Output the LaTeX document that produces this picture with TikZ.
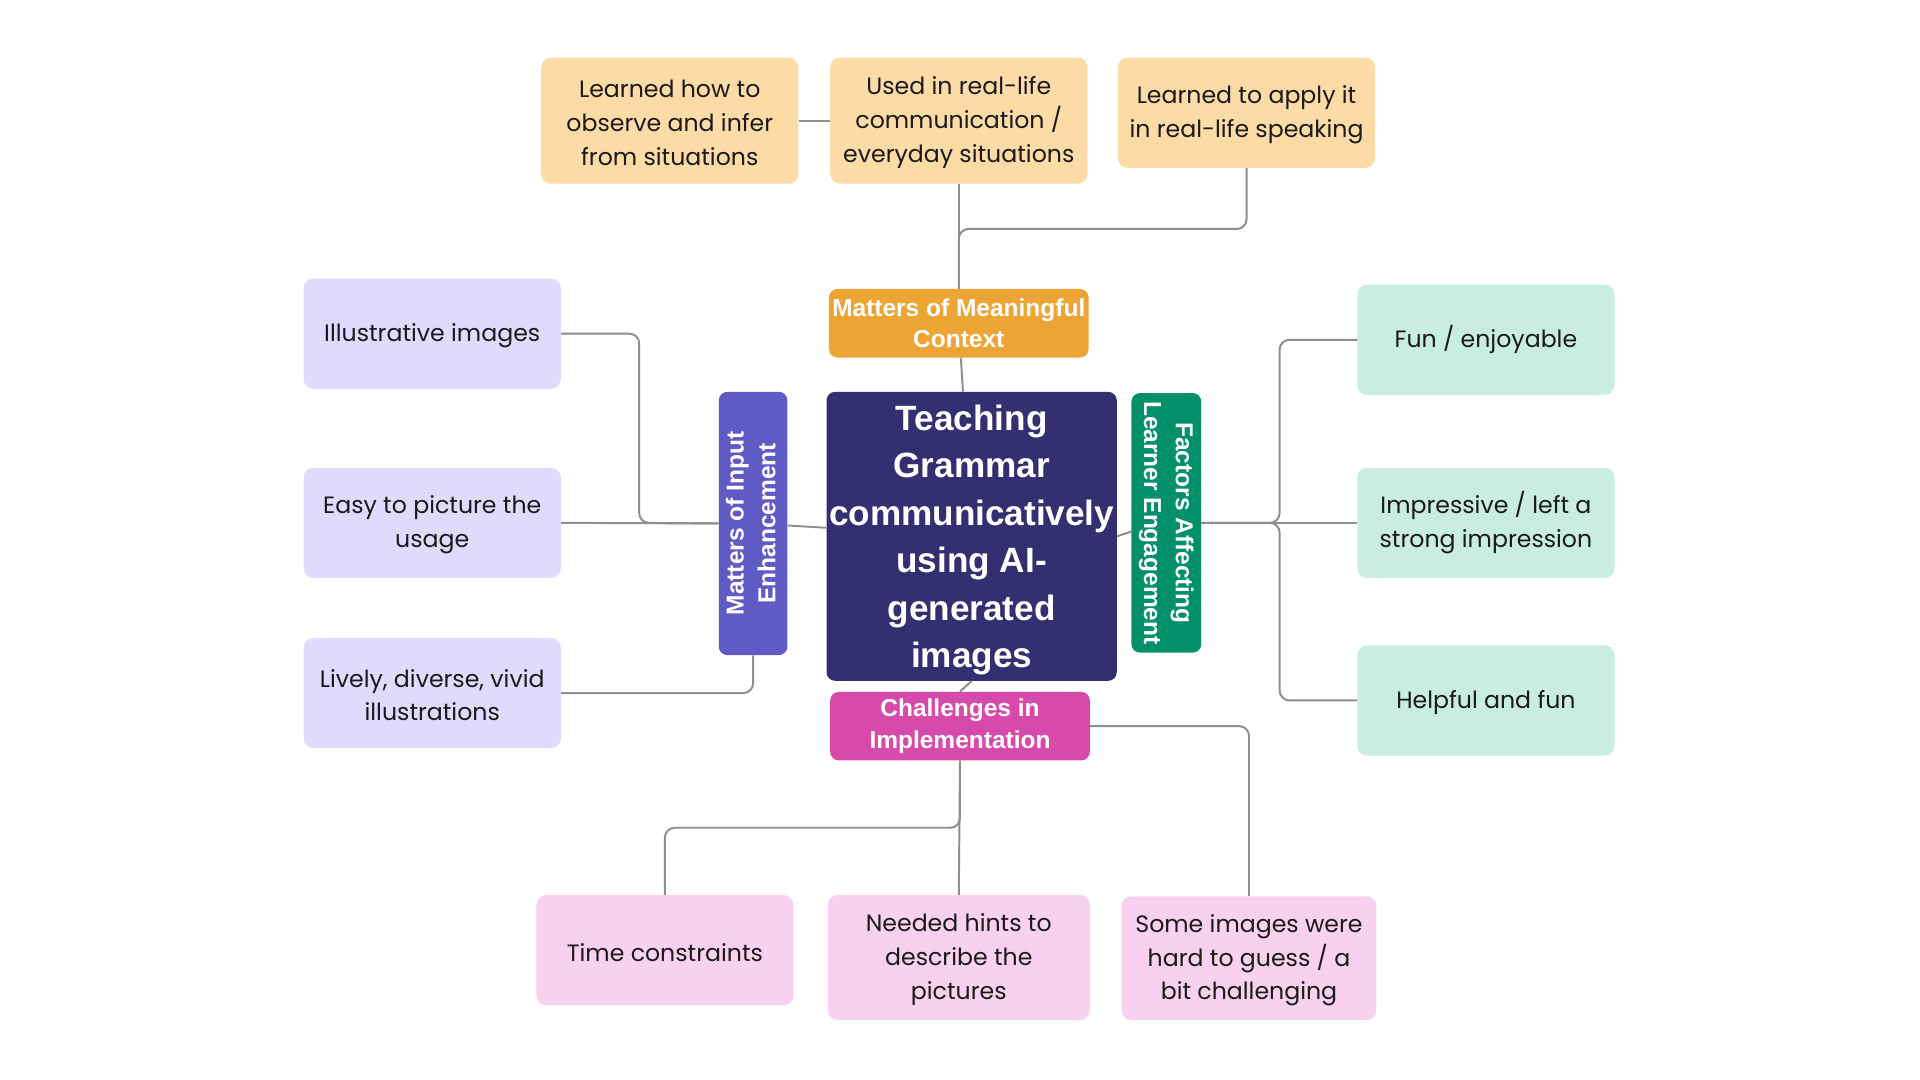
\documentclass[tikz,border=0pt]{standalone}
\usepackage{fontspec}
\usepackage{graphicx}
\setmainfont{Poppins}
\newfontfamily\catfont{Liberation Sans}
\usetikzlibrary{calc}
\definecolor{peachL}{HTML}{FDDBA6}
\definecolor{orangeC}{HTML}{ECA535}
\definecolor{navyC}{HTML}{352F71}
\definecolor{purpleC}{HTML}{5F5BC5}
\definecolor{lavL}{HTML}{E0DBFC}
\definecolor{greenC}{HTML}{02906B}
\definecolor{mintL}{HTML}{C9ECE3}
\definecolor{magC}{HTML}{D74AAA}
\definecolor{pinkL}{HTML}{F8D1F1}
\definecolor{lineC}{HTML}{8E8E8E}
\definecolor{inkC}{HTML}{1A1A1A}
\newcommand\tstr{\rule{0pt}{18pt}}
\newcommand\cstr{\rule{0pt}{27pt}}
\tikzset{
  leaf/.style={rounded corners=8pt, inner sep=0pt, align=center, text=inkC,
    minimum width=210, minimum height=90,
    font=\fontsize{19.3}{27.5}\selectfont},
  cat/.style={rounded corners=7pt, inner sep=0pt, align=center, text=white,
    font=\catfont\bfseries\fontsize{20}{26}\selectfont},
  conn/.style={draw=lineC, line width=1.6pt, rounded corners=8pt},
}
\begin{document}
\begin{tikzpicture}[x=1pt,y=-1pt]
\useasboundingbox[fill=white] (0,0) rectangle (1568,882);

% central
\node[cat, fill=navyC, minimum width=237, minimum height=236,
  font=\catfont\bfseries\fontsize{28.7}{38.8}\selectfont] (C) at (793.5,438)
  {\cstr Teaching\\Grammar\\communicatively\\using AI-\\generated\\images};

% categories
\node[cat, fill=orangeC, minimum width=212, minimum height=56] (MC) at (783,264)
  {Matters of Meaningful\\Context};
\node[cat, fill=magC, minimum width=212, minimum height=56] (CI) at (784,593)
  {Challenges in\\Implementation};
\node[cat, fill=purpleC, minimum width=56, minimum height=215] (MIE) at (615,427.5)
  {\rotatebox{90}{\begin{tabular}{@{}c@{}}Matters of Input\\Enhancement\end{tabular}}};
\node[cat, fill=greenC, minimum width=57, minimum height=212] (FALE) at (952.5,427)
  {\rotatebox{-90}{\begin{tabular}{@{}c@{}}Factors Affecting\\Learner Engagement\end{tabular}}};

% top leaves
\node[leaf, fill=peachL, minimum height=103] (B1) at (547,98.5)
  {\tstr Learned how to\\observe and infer\\from situations};
\node[leaf, fill=peachL, minimum height=103] (B2) at (783,98.5)
  {\tstr Used in real-life\\communication /\\everyday situations};
\node[leaf, fill=peachL] (B3) at (1018,92)
  {\tstr Learned to apply it\\in real-life speaking};

% left leaves
\node[leaf, fill=lavL] (L1) at (353,272.5) {\tstr Illustrative images};
\node[leaf, fill=lavL] (L2) at (353,427) {\tstr Easy to picture the\\usage};
\node[leaf, fill=lavL] (L3) at (353,566) {\tstr Lively, diverse, vivid\\illustrations};

% right leaves
\node[leaf, fill=mintL] (R1) at (1213.5,277.5) {\tstr Fun / enjoyable};
\node[leaf, fill=mintL] (R2) at (1213.5,427) {\tstr Impressive / left a\\strong impression};
\node[leaf, fill=mintL] (R3) at (1213.5,572) {\tstr Helpful and fun};

% bottom leaves
\node[leaf, fill=pinkL] (D1) at (543,776) {\tstr Time constraints};
\node[leaf, fill=pinkL, minimum width=214, minimum height=102] (D2) at (783,782)
  {\tstr Needed hints to\\describe the\\pictures};
\node[leaf, fill=pinkL, minimum width=208, minimum height=101] (D3) at (1020,782.5)
  {\tstr Some images were\\hard to guess / a\\bit challenging};

% junctions
\coordinate (jT) at (783,187);
\coordinate (jL) at (522,427);
\coordinate (jR) at (1045,427);
\coordinate (jB) at (784,676);

% connectors
\draw[conn] (MC) -- (C);
\draw[conn] (C.south) -- (CI.north);
\draw[conn] (MIE) -- (C);
\draw[conn] (C.east) -- (FALE.194);

\draw[conn] (B1.east) -- (B2.west);
\draw[conn] (B2.south) -- (MC.north);
\draw[conn] (B3.south) |- (jT) -- (MC.north);

\draw[conn] (L1.east) -| (jL) -- (MIE.west);
\draw[conn] (L2.east) -- (MIE.west);
\draw[conn] (L3.east) -| (MIE.south);

\draw[conn] (FALE.east) -- (R2.west);
\draw[conn] (FALE.east) -- (jR) |- (R1.west);
\draw[conn] (FALE.east) -- (jR) |- (R3.west);

\draw[conn] (CI.south) -- (jB) -| (D1.north);
\draw[conn] (CI.south) -- (D2.north);
\draw[conn] (CI.east) -| (D3.north);
\end{tikzpicture}
\end{document}
